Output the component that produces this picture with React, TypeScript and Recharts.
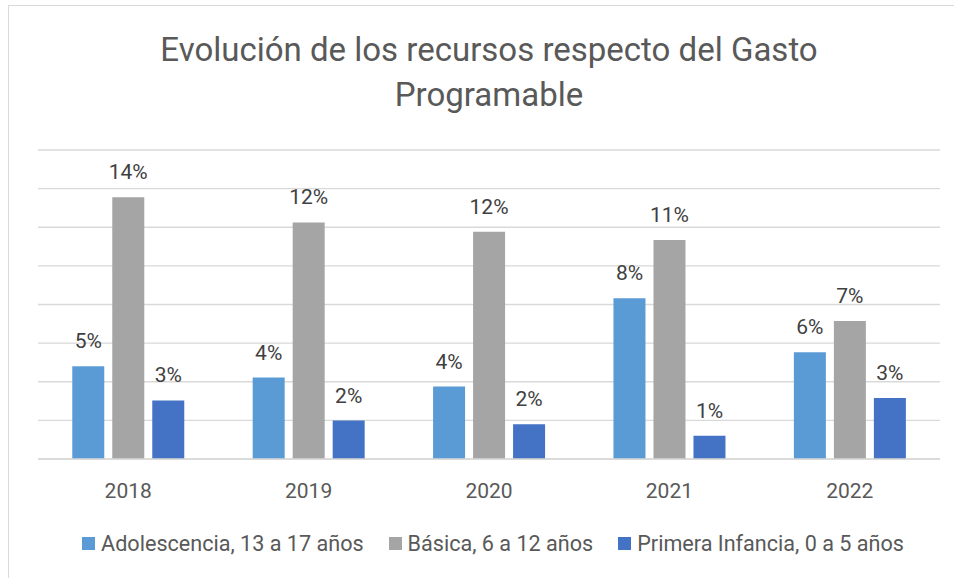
import React from "react";
import { BarChart, Bar, XAxis, YAxis, CartesianGrid, LabelList } from "recharts";

// Share of programmable spending, by age group and year
const years = ["2018", "2019", "2020", "2021", "2022"];
const adolescencia = [0.048, 0.0422, 0.0375, 0.0832, 0.0553];
const basica = [0.1355, 0.1225, 0.1177, 0.1134, 0.0715];
const primeraInfancia = [0.0303, 0.0199, 0.018, 0.0121, 0.0316];
const yTicks = [0, 0.02, 0.04, 0.06, 0.08, 0.1, 0.12, 0.14, 0.16];

const seriesKeys = ["adolescencia", "basica", "primeraInfancia"] as const;

const seriesNames = {
  adolescencia: "Adolescencia, 13 a 17 años",
  basica: "Básica, 6 a 12 años",
  primeraInfancia: "Primera Infancia, 0 a 5 años",
};

const colors = {
  adolescencia: "#5B9BD5",
  basica: "#A5A5A5",
  primeraInfancia: "#4472C4",
};

const data = years.map((year, i) => ({
  year,
  adolescencia: adolescencia[i],
  basica: basica[i],
  primeraInfancia: primeraInfancia[i],
}));

const FONT = "Roboto, 'Noto Sans', sans-serif";
const pct = (v: number) => `${Math.round(v * 100)}%`;

function SeriesLegend() {
  return (
    <div
      style={{
        position: "absolute",
        left: 0,
        top: 528,
        width: 954,
        display: "flex",
        justifyContent: "center",
        alignItems: "center",
        paddingLeft: 32,
        boxSizing: "border-box",
        height: 30,
        fontFamily: FONT,
        fontSize: 21.6,
        color: "#595959",
      }}
    >
      {seriesKeys.map((key, idx) => (
        <div key={key} style={{ display: "flex", alignItems: "center", marginLeft: idx === 0 ? 0 : 25 }}>
          <span style={{ width: 13, height: 13, background: colors[key], marginRight: 6, display: "inline-block" }} />
          <span>{seriesNames[key]}</span>
        </div>
      ))}
    </div>
  );
}

export default function App() {
  return (
    <div style={{ position: "absolute", left: 0, top: 0, width: 954, height: 578, background: "#fff", overflow: "hidden" }}>
      <div
        style={{
          position: "absolute",
          left: 8,
          top: 5,
          width: 946,
          height: 573,
          borderTop: "1.5px solid #D9D9D9",
          borderLeft: "1.5px solid #D9D9D9",
          boxSizing: "border-box",
        }}
      />
      <div
        style={{
          position: "absolute",
          left: 0,
          top: 27,
          width: 978,
          textAlign: "center",
          fontFamily: FONT,
          fontSize: 33,
          lineHeight: "45px",
          color: "#595959",
        }}
      >
        Evolución de los recursos respecto del Gasto
        <br />
        Programable
      </div>
      <div style={{ position: "absolute", left: 0, top: 0 }}>
        <BarChart
          width={954}
          height={578}
          data={data}
          margin={{ top: 150, right: 14, bottom: 89, left: 38 }}
          barCategoryGap="19%"
          barGap={8}
        >
          <CartesianGrid vertical={false} stroke="#D9D9D9" strokeWidth={1.3} />
          <YAxis hide domain={[0, 0.16]} ticks={yTicks} />
          <XAxis
            dataKey="year"
            height={30}
            tickLine={false}
            tickSize={0}
            tickMargin={24}
            axisLine={{ stroke: "#D9D9D9", strokeWidth: 1.5 }}
            tick={{ fill: "#595959", fontSize: 21, fontFamily: FONT }}
          />
          {seriesKeys.map((key) => (
            <Bar key={key} dataKey={key} name={seriesNames[key]} fill={colors[key]} isAnimationActive={false}>
              <LabelList
                dataKey={key}
                position="top"
                offset={18}
                formatter={(v: any) => pct(Number(v))}
                style={{ fill: "#404040", fontSize: 21, fontFamily: FONT }}
              />
            </Bar>
          ))}
        </BarChart>
      </div>
      <SeriesLegend />
    </div>
  );
}
